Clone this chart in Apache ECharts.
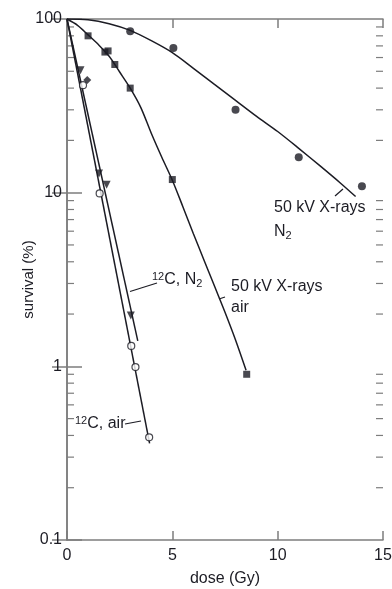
<!DOCTYPE html>
<html>
<head>
<meta charset="utf-8">
<script src="https://cdn.jsdelivr.net/npm/echarts@6/dist/echarts.min.js"></script>
<style>
  html, body { margin: 0; padding: 0; background: #fff; }
  #chart { width: 392px; height: 589px; }
</style>
</head>
<body>
<div id="chart"></div>
<script>
// --- data ----------------------------------------------------------------
var xTicks = [0, 5, 10, 15];
var yTickLabels = ["0.1", "1", "10", "100"];

// 50 kV X-rays, N2 (filled circles + fitted curve)
var xrayN2Dose = [3.0, 5.05, 8.0, 11.0, 14.0];
var xrayN2Surv = [85, 68, 30, 16, 10.9];
var xrayN2CurveDose = [0, 1, 2, 3, 4, 5, 6, 7, 8, 9, 10, 11, 12, 13, 13.7];
var xrayN2CurveSurv = [100, 99, 94, 86, 75, 64, 52, 42, 34, 27.5, 22.5, 18, 14.3, 11.3, 9.5];

// 50 kV X-rays, air (filled squares + curve)
var xrayAirDose = [1.0, 1.8, 1.95, 2.27, 3.0, 5.0, 8.53];
var xrayAirSurv = [80, 64.5, 65.5, 54.7, 40, 11.9, 0.9];
var xrayAirCurveDose = [0, 0.5, 1, 1.5, 2, 2.5, 3, 3.5, 4, 4.5, 5, 5.5, 6, 6.5, 7, 7.5, 8, 8.5];
var xrayAirCurveSurv = [100, 92, 81, 71, 61, 49.5, 40, 31, 22, 16, 11.8, 8.3, 5.8, 4.1, 2.9, 2.05, 1.42, 0.95];

// 12C, N2 (filled down-triangles, one diamond, straight line)
var carbonN2Dose = [0.64, 1.52, 1.88, 3.03];
var carbonN2Surv = [50.7, 12.9, 11.1, 1.96];
var carbonN2DiamondDose = [0.96];
var carbonN2DiamondSurv = [44.5];
var carbonN2LineDose = [0, 3.36];
var carbonN2LineSurv = [100, 1.4];

// 12C, air (open circles, straight line)
var carbonAirDose = [0.76, 1.55, 3.05, 3.25, 3.9];
var carbonAirSurv = [41.6, 9.9, 1.31, 0.99, 0.39];
var carbonAirLineDose = [0, 3.92];
var carbonAirLineSurv = [100, 0.36];

// --- helpers ---------------------------------------------------------------
var INK = "#1c1c24";
var FRAME = "#7d7d7d";
var FONT = "'Liberation Sans', Arial, Helvetica, sans-serif";

function pairs(xs, ys) {
  return xs.map(function (x, i) { return [x, ys[i]]; });
}

// log minor ticks 2..9 in every decade between 0.1 and 100
var minorTickValues = [];
[0.1, 1, 10].forEach(function (d) {
  for (var k = 2; k <= 9; k++) minorTickValues.push(+(d * k).toPrecision(3));
});

function curve(xs, ys) {
  return {
    type: "line", data: pairs(xs, ys), smooth: 0.3, showSymbol: false,
    lineStyle: { color: INK, width: 1.5 }, z: 3, silent: true
  };
}
function straight(xs, ys) {
  return {
    type: "line", data: pairs(xs, ys), showSymbol: false,
    lineStyle: { color: INK, width: 1.5 }, z: 3, silent: true
  };
}
function marks(xs, ys, symbol, size, extra) {
  var s = {
    type: "scatter", data: pairs(xs, ys), symbol: symbol, symbolSize: size,
    itemStyle: { color: INK }, z: 5, silent: true
  };
  return Object.assign(s, extra || {});
}

var axisLine = { show: true, lineStyle: { color: FRAME, width: 1.5 } };
var labelStyle = { color: INK, fontSize: 16, fontFamily: FONT };

var xAxisBase = {
  type: "value", min: 0, max: 15, interval: 5,
  axisLine: axisLine,
  axisTick: { show: true, inside: true, length: 9, lineStyle: { color: FRAME, width: 1.5 } },
  splitLine: { show: false }
};
var yAxisBase = {
  type: "log", logBase: 10, min: 0.1, max: 100,
  axisLine: axisLine,
  axisTick: { show: true, inside: true, length: 15, lineStyle: { color: FRAME, width: 1.5 } },
  splitLine: { show: false }
};

var option = {
  animation: false,
  backgroundColor: "#fff",
  textStyle: { fontFamily: FONT },
  grid: { left: 67, right: 9, top: 19, bottom: 49, outerBoundsMode: "none" },
  xAxis: [
    Object.assign({}, xAxisBase, {
      position: "bottom",
      name: "dose (Gy)", nameLocation: "middle", nameGap: 31, nameMoveOverlap: false,
      nameTextStyle: { color: INK, fontSize: 16, fontFamily: FONT },
      axisLabel: Object.assign({ margin: 8, formatter: function (v) {
        return xTicks.indexOf(v) >= 0 ? String(v) : "";
      } }, labelStyle)
    }),
    Object.assign({}, xAxisBase, { position: "top", axisLabel: { show: false } })
  ],
  yAxis: [
    Object.assign({}, yAxisBase, {
      position: "left",
      name: "survival (%)", nameLocation: "middle", nameGap: 31, nameRotate: 90, nameMoveOverlap: false,
      nameTextStyle: { color: INK, fontSize: 15, fontFamily: FONT },
      axisLabel: Object.assign({ margin: 5, formatter: function (v) {
        var s = String(+v.toPrecision(3));
        return yTickLabels.indexOf(s) >= 0 ? s : "";
      } }, labelStyle)
    }),
    Object.assign({}, yAxisBase, { position: "right", axisLabel: { show: false } })
  ],
  series: [
    {
      type: "custom", coordinateSystem: "cartesian2d", silent: true, z: 2,
      data: minorTickValues.map(function (v) { return [0, v]; }),
      encode: { x: 0, y: 1 },
      renderItem: function (params, api) {
        var v = api.value(1);
        var l = api.coord([0, v]);
        var r = api.coord([15, v]);
        var st = { stroke: FRAME, lineWidth: 1.2 };
        return {
          type: "group",
          children: [
            { type: "line", shape: { x1: l[0], y1: l[1], x2: l[0] + 7, y2: l[1] }, style: st },
            { type: "line", shape: { x1: r[0] - 7, y1: r[1], x2: r[0], y2: r[1] }, style: st }
          ]
        };
      }
    },
    curve(xrayN2CurveDose, xrayN2CurveSurv),
    curve(xrayAirCurveDose, xrayAirCurveSurv),
    straight(carbonN2LineDose, carbonN2LineSurv),
    straight(carbonAirLineDose, carbonAirLineSurv),
    marks(xrayN2Dose, xrayN2Surv, "circle", 8),
    marks(xrayAirDose, xrayAirSurv, "rect", 7),
    marks(carbonN2Dose, carbonN2Surv, "triangle", 8, { symbolRotate: 180 }),
    marks(carbonN2DiamondDose, carbonN2DiamondSurv, "diamond", 8),
    marks(carbonAirDose, carbonAirSurv, "circle", 7, {
      itemStyle: { color: "#fff", borderColor: INK, borderWidth: 1.2 }
    })
  ],
  graphic: (function () {
    var rich = {
      sup: { fontSize: 11, fontFamily: FONT, fill: INK, verticalAlign: "top", lineHeight: 18 },
      sub: { fontSize: 11, fontFamily: FONT, fill: INK, verticalAlign: "bottom", lineHeight: 18, padding: [6, 0, 0, 0] },
      m: { fontSize: 16, fontFamily: FONT, fill: INK, lineHeight: 18 }
    };
    function txt(x, y, text) {
      return {
        type: "text", x: x, y: y, z: 10, silent: true,
        style: { text: text, rich: rich, fill: INK, font: "16px " + FONT, align: "left", verticalAlign: "middle" }
      };
    }
    function lead(x1, y1, x2, y2) {
      return {
        type: "line", z: 10, silent: true,
        shape: { x1: x1, y1: y1, x2: x2, y2: y2 },
        style: { stroke: INK, lineWidth: 1.2 }
      };
    }
    return [
      txt(274, 208, "{m|50 kV X-rays}"),
      txt(274, 232, "{m|N}{sub|2}"),
      lead(335, 196, 343, 189),
      txt(231, 287, "{m|50 kV X-rays}"),
      txt(231, 308, "{m|air}"),
      lead(219, 299, 225, 297),
      txt(152, 280, "{sup|12}{m|C, N}{sub|2}"),
      lead(130, 291.5, 157, 283),
      txt(75, 424, "{sup|12}{m|C, air}"),
      lead(125, 424, 141, 421)
    ];
  })()
};

var chart = echarts.init(document.getElementById("chart"), null, { renderer: "canvas" });
chart.setOption(option);
</script>
</body>
</html>
